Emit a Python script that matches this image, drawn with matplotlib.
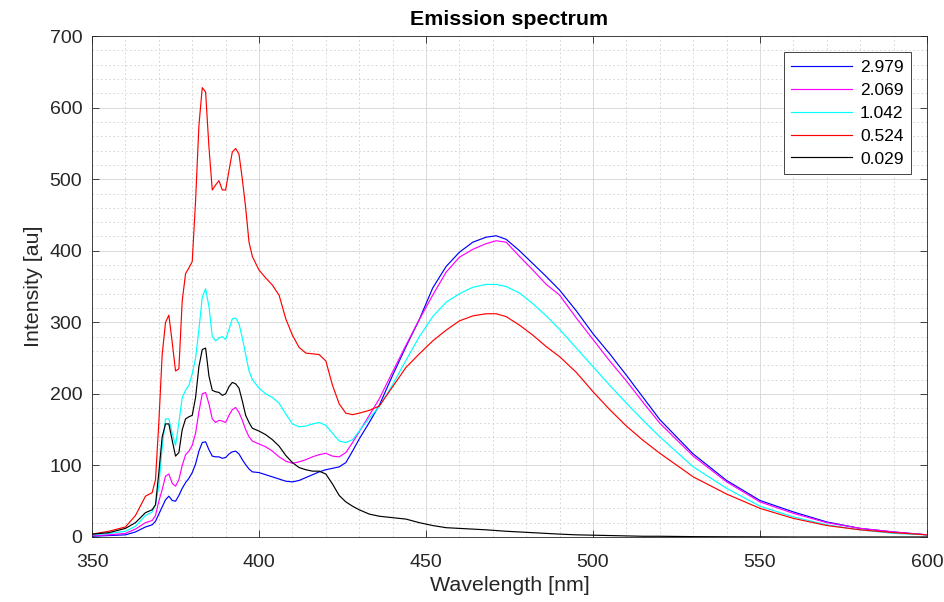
"""
Emission spectrum at several settings, MATLAB-like look.
Saves out.png.
"""

import matplotlib
matplotlib.use("Agg")
import matplotlib.pyplot as plt
import matplotlib.ticker as ticker

plt.rcParams["font.family"] = ["Liberation Sans", "DejaVu Sans"]

# ---------------------------------------------------------------------------
# Data
# ---------------------------------------------------------------------------
wavelength = [350, 355, 360, 363, 366, 368, 369, 370, 371, 372, 373, 374, 375, 376,
              377, 378, 379, 380, 381, 382, 383, 384, 385, 386, 387, 388, 389, 390,
              391, 392, 393, 394, 395, 396, 397, 398, 400, 402, 404, 406, 408, 410,
              412, 414, 416, 418, 420, 422, 424, 426, 428, 430, 433, 436, 440, 444,
              448, 452, 456, 460, 464, 468, 471, 474, 478, 482, 486, 490, 495, 500,
              505, 510, 515, 520, 530, 540, 550, 560, 570, 580, 590, 600]

i_2979 = [1, 2, 3, 7, 14, 17, 22, 32, 42, 52, 57, 51, 50, 58,
          68, 76, 82, 90, 102, 120, 132, 133, 122, 113, 112, 112, 110, 111,
          116, 119, 120, 116, 108, 101, 95, 91, 90, 87, 84, 81, 78, 77,
          79, 83, 87, 91, 94, 96, 98, 104, 120, 137, 160, 184, 226, 266,
          304, 348, 378, 398, 412, 419, 421, 416, 400, 382, 364, 345, 316, 284,
          256, 226, 195, 164, 116, 79, 51, 35, 21, 12, 7, 3]

i_2069 = [2, 3, 5, 11, 20, 23, 30, 50, 66, 85, 88, 75, 71, 80,
          100, 115, 120, 128, 145, 175, 200, 202, 186, 165, 160, 163, 162, 160,
          170, 178, 181, 174, 163, 150, 140, 134, 130, 126, 120, 112, 106, 103,
          105, 108, 112, 115, 117, 113, 112, 118, 132, 147, 170, 193, 231, 268,
          304, 338, 370, 391, 402, 410, 414, 412, 392, 373, 353, 338, 306, 276,
          246, 218, 188, 159, 113, 77, 49, 33, 20, 12, 7, 3]

i_1042 = [3, 5, 8, 15, 30, 35, 45, 72, 125, 165, 165, 145, 128, 160,
          195, 205, 212, 228, 250, 290, 335, 347, 322, 280, 274, 278, 280, 276,
          290, 305, 306, 298, 278, 255, 232, 220, 208, 200, 195, 187, 172, 158,
          154, 155, 158, 160, 156, 145, 134, 132, 136, 148, 166, 182, 213, 247,
          280, 308, 328, 340, 349, 353, 353, 350, 341, 326, 309, 290, 264, 238,
          212, 187, 163, 140, 98, 68, 43, 28, 17, 10, 5, 3]

i_0524 = [4, 8, 14, 30, 57, 62, 80, 160, 255, 300, 310, 272, 232, 235,
          330, 368, 376, 385, 470, 575, 628, 622, 545, 485, 492, 498, 485, 485,
          512, 538, 543, 535, 500, 460, 412, 392, 373, 362, 352, 338, 305, 282,
          265, 257, 256, 255, 246, 212, 186, 173, 171, 173, 177, 183, 210, 237,
          256, 274, 289, 302, 309, 312, 312, 308, 296, 282, 266, 252, 230, 203,
          178, 155, 135, 117, 84, 60, 40, 26, 16, 10, 6, 3]

i_0029 = [4, 6, 12, 20, 34, 38, 45, 90, 140, 158, 158, 135, 113, 118,
          150, 165, 168, 170, 195, 238, 262, 264, 225, 205, 203, 202, 198, 200,
          210, 216, 214, 208, 190, 170, 160, 152, 148, 143, 136, 127, 114, 104,
          97, 94, 92, 92, 88, 74, 58, 49, 43, 38, 32, 29, 27, 25,
          20, 16, 13, 12, 11, 10, 9, 8, 7, 6, 5, 4, 3, 2.5,
          2, 1.5, 1, 1, 0.5, 0.3, 0.2, 0, 0, 0, 0, 0]

series = [("2.979", i_2979, "#0000ff"),
          ("2.069", i_2069, "#ff00ff"),
          ("1.042", i_1042, "#00ffff"),
          ("0.524", i_0524, "#ff0000"),
          ("0.029", i_0029, "#000000")]

# ---------------------------------------------------------------------------
# Plot
# ---------------------------------------------------------------------------
fig = plt.figure(figsize=(9.44, 6.02), dpi=100)
ax = fig.add_axes([0.0975, 0.108, 0.8845, 0.832])

for label, vals, col in series:
    ax.plot(wavelength, vals, color=col, linewidth=0.85, label=label)

ax.set_xlim(350, 600)
ax.set_ylim(0, 700)
ax.xaxis.set_major_locator(ticker.MultipleLocator(50))
ax.yaxis.set_major_locator(ticker.MultipleLocator(100))
ax.xaxis.set_minor_locator(ticker.MultipleLocator(10))
ax.yaxis.set_minor_locator(ticker.MultipleLocator(20))

ax.grid(True, which="major", color="#d4d4d4", linewidth=0.6, linestyle="-")
ax.grid(True, which="minor", color="#cfcfcf", linewidth=0.6, linestyle=(0, (2, 3)))
ax.set_axisbelow(True)

dark = "#262626"
for s in ax.spines.values():
    s.set_color(dark)
    s.set_linewidth(0.6)
ax.tick_params(which="major", direction="in", length=5, width=0.6, color=dark,
               labelcolor=dark, labelsize=14, top=True, right=True)
ax.tick_params(axis="x", which="major", pad=12)
ax.tick_params(axis="y", which="major", pad=7)
ax.tick_params(which="minor", length=0, top=True, right=True)

ax.set_title("Emission spectrum", fontsize=15.4, fontweight="bold", color="black", pad=8)
ax.set_xlabel("Wavelength [nm]", fontsize=15.4, color=dark, labelpad=4)
ax.set_ylabel("Intensity [au]", fontsize=15.4, color=dark, labelpad=5)

leg = ax.legend(loc="upper right", fontsize=12.5, fancybox=False, framealpha=1,
                edgecolor=dark, handlelength=3.5, handletextpad=0.45,
                labelspacing=0.45, borderaxespad=0.9, borderpad=0.45)
leg.get_frame().set_linewidth(0.6)

fig.savefig("out.png", dpi=100)
print("Saved: out.png")
